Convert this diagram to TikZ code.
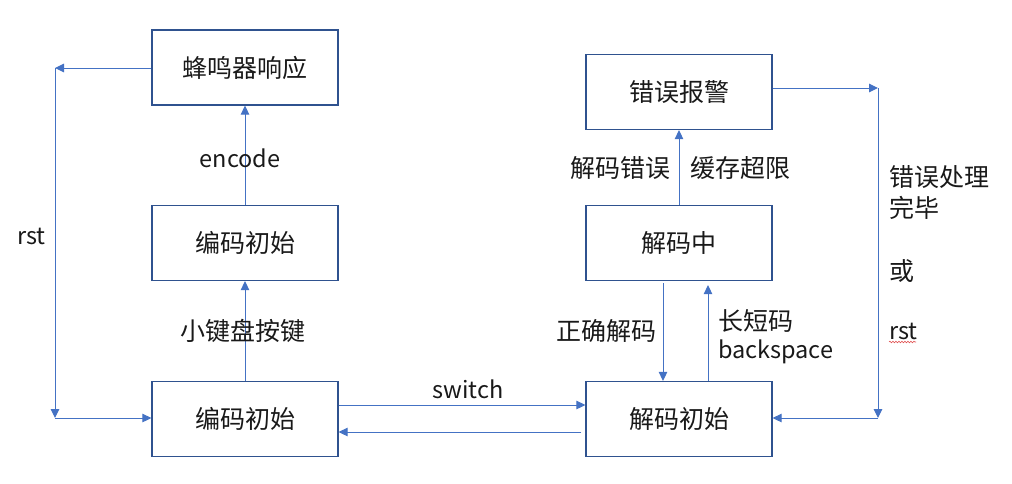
\documentclass[tikz,border=0pt]{standalone}
\usepackage{fontspec}
\setmainfont{Noto Sans CJK SC}
\usetikzlibrary{arrows.meta,decorations.pathmorphing}
\definecolor{boxblue}{HTML}{2F528F}
\definecolor{linkblue}{HTML}{4472C4}
\definecolor{spellred}{HTML}{E05050}

\begin{document}
\begin{tikzpicture}[x=1pt,y=-1pt,
  state/.style={draw=boxblue,line width=1.2pt,minimum width=186pt,minimum height=75pt,
    inner sep=0pt,font=\fontsize{25}{29}\selectfont,text=black!90},
  link/.style={draw=linkblue,line width=1pt,-{Triangle[length=9pt,width=8.5pt]}},
  lbl/.style={font=\fontsize{25}{29}\selectfont,inner sep=0pt,text=black!90},
  latin/.style={lbl,font=\fontsize{23.5}{27}\selectfont}]
\useasboundingbox (0,0) rectangle (1012,483);

% states
\node[state] (buzz) at (245,67.5) {蜂鸣器响应};
\node[state] (enc1) at (245,243) {编码初始};
\node[state] (enc0) at (245,419) {编码初始};
\node[state] (err)  at (679,92)  {错误报警};
\node[state] (dec1) at (679,243) {解码中};
\node[state] (dec0) at (679,419) {解码初始};

% corner points of the reset loops
\coordinate (cL1) at (55,68);
\coordinate (cL2) at (55,418);
\coordinate (cR1) at (878,88);
\coordinate (cR2) at (878,418);

% encoder side
\draw[link] (enc0.north) -- (enc1.south);
\draw[link] (enc1.north) -- (buzz.south);
\draw[link] (buzz.west |- cL1) -- (cL1);
\draw[link] (cL1) -- (cL2);
\draw[link] (cL2) -- (enc0.west |- cL2);

% switching between the two sides
\draw[link] ([yshift=14pt]enc0.east) -- ([yshift=14pt]dec0.west);
\draw[link] ([xshift=-4pt,yshift=-13pt]dec0.west) -- ([yshift=-13pt]enc0.east);

% decoder side
\draw[link] ([xshift=-16pt,yshift=-2pt]dec1.south) -- ([xshift=-16pt]dec0.north);
\draw[link] ([xshift=29pt]dec0.north) -- ([xshift=29pt,yshift=-4pt]dec1.south);
\draw[link] (dec1.north) -- (err.south);
\draw[link] (err.east |- cR1) -- (cR1);
\draw[link] (cR1) -- (cR2);
\draw[link] (cR2) -- (dec0.east |- cR2);

% labels
\node[latin] (lEncode) at (240,158) {encode};
\node[lbl] (lKeys)   at (243,331) {小键盘按键};
\node[latin,anchor=west] (lRstL) at (17,236) {rst};
\node[latin] (lSwitch) at (468,389) {switch};
\node[lbl] (lDecErr) at (620,168) {解码错误};
\node[lbl] (lBuf)    at (740,168) {缓存超限};
\node[lbl] (lOk)     at (606,331) {正确解码};
\node[lbl,anchor=west] (lLong) at (718,321) {长短码};
\node[latin,anchor=west] (lBack) at (718,352) {backspace};
\node[lbl,anchor=west] (lDone1) at (889,177) {错误处理};
\node[lbl,anchor=west] (lDone2) at (889,208) {完毕};
\node[lbl,anchor=west] (lOr)    at (889,271) {或};
\node[latin,anchor=west] (lRstR)  at (889,331) {rst};
\draw[spellred,line width=0.6pt,decorate,decoration={snake,amplitude=0.8pt,segment length=3pt}]
  (889,342) -- (916,342);
\end{tikzpicture}
\end{document}
